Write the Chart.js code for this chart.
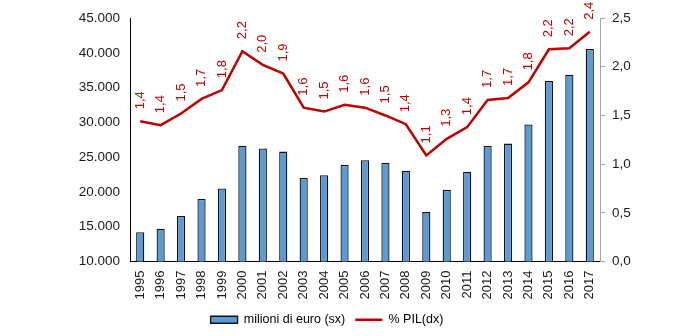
<!DOCTYPE html>
<html>
<head>
<meta charset="utf-8">
<script src="https://cdn.jsdelivr.net/npm/chart.js@4.4.1/dist/chart.umd.min.js"></script>
<style>
  html, body { margin: 0; padding: 0; background: #fff; }
  #wrap { width: 700px; height: 336px; }
</style>
</head>
<body>
<div id="wrap"><canvas id="chart" width="700" height="336"></canvas></div>
<script>
// data
const years = ['1995', '1996', '1997', '1998', '1999', '2000', '2001', '2002', '2003', '2004', '2005', '2006',
    '2007', '2008', '2009', '2010', '2011', '2012', '2013', '2014', '2015', '2016', '2017'];
const milioniEuro = [14200, 14700, 16550, 19000, 20500, 26650, 26250, 25800, 22000, 22400, 23900, 24550,
    24200, 23050, 17100, 20300, 22900, 26600, 26950, 29700, 35950, 36850, 40550];
const pilPerc = [1.44, 1.40, 1.52, 1.67, 1.76, 2.16, 2.02, 1.93, 1.58, 1.54, 1.61, 1.58,
    1.50, 1.41, 1.09, 1.26, 1.38, 1.66, 1.68, 1.84, 2.18, 2.19, 2.36];
const leftTicks = [10000, 15000, 20000, 25000, 30000, 35000, 40000, 45000];
const rightTicks = [0, 0.5, 1, 1.5, 2, 2.5];

const FONT = "'Liberation Sans Narrow', 'Liberation Sans', Arial, sans-serif";
const barColor = '#5B9BD5';
const lineColor = '#C00000';

Chart.defaults.font.family = FONT;
Chart.defaults.color = '#1a1a1a';

// rotated value labels above the line points
const pointLabels = {
    id: 'pointLabels',
    afterDatasetsDraw(chart) {
        const meta = chart.getDatasetMeta(0);
        const ctx = chart.ctx;
        ctx.save();
        ctx.fillStyle = lineColor;
        ctx.font = '13px ' + FONT;
        ctx.textAlign = 'left';
        ctx.textBaseline = 'middle';
        meta.data.forEach((pt, i) => {
            ctx.save();
            ctx.translate(pt.x, pt.y - 12);
            ctx.rotate(-Math.PI / 2);
            ctx.fillText(pilPerc[i].toFixed(1).replace('.', ','), 0, 0);
            ctx.restore();
        });
        ctx.restore();
    }
};

new Chart(document.getElementById('chart').getContext('2d'), {
    type: 'bar',
    data: {
        labels: years,
        datasets: [{
            type: 'line',
            label: '% PIL(dx)',
            data: pilPerc,
            yAxisID: 'y1',
            borderColor: lineColor,
            backgroundColor: lineColor,
            borderWidth: 2.5,
            pointRadius: 0,
            tension: 0,
            order: 0
        }, {
            label: 'milioni di euro (sx)',
            data: milioniEuro,
            yAxisID: 'y',
            backgroundColor: barColor,
            borderColor: '#111',
            borderWidth: 1.3,
            categoryPercentage: 1,
            barPercentage: 0.4,
            order: 1
        }]
    },
    options: {
        responsive: false,
        animation: false,
        devicePixelRatio: 1,
        layout: {
            padding: { top: 6, right: 46, left: 0, bottom: 0 }
        },
        scales: {
            x: {
                offset: true,
                grid: { display: false, drawTicks: false },
                border: { display: true, color: '#000', width: 1 },
                ticks: {
                    minRotation: 90,
                    maxRotation: 90,
                    padding: 9,
                    font: { size: 13 },
                    color: '#1a1a1a'
                },
                afterFit: scale => { scale.height = 42; }
            },
            y: {
                position: 'left',
                min: 10000,
                max: 45000,
                grid: { display: false, drawTicks: false },
                border: { display: true, color: '#000', width: 1 },
                afterBuildTicks: scale => { scale.ticks = leftTicks.map(v => ({ value: v })); },
                ticks: {
                    padding: 10,
                    font: { size: 13.5 },
                    color: '#1a1a1a',
                    callback: v => v.toLocaleString('it-IT', { useGrouping: true }).replace(/\s/g, '.')
                },
                afterFit: scale => { scale.width = 130; }
            },
            y1: {
                position: 'right',
                min: 0,
                max: 2.5,
                grid: { display: true, drawOnChartArea: false, drawTicks: true, tickLength: 5, color: '#a6a6a6' },
                border: { display: true, color: '#a6a6a6', width: 1 },
                afterBuildTicks: scale => { scale.ticks = rightTicks.map(v => ({ value: v })); },
                ticks: {
                    padding: 7,
                    font: { size: 13.5 },
                    color: '#1a1a1a',
                    callback: v => v.toFixed(1).replace('.', ',')
                },
                afterFit: scale => { scale.width = 54; }
            }
        },
        plugins: {
            legend: {
                position: 'bottom',
                labels: {
                    usePointStyle: true,
                    pointStyleWidth: 27,
                    boxHeight: 7,
                    padding: 10,
                    font: { size: 12.5 },
                    color: '#1a1a1a',
                    generateLabels: () => [
                        { text: 'milioni di euro (sx)', fillStyle: barColor, strokeStyle: '#111', lineWidth: 1.3, pointStyle: 'rect', datasetIndex: 1 },
                        { text: '% PIL(dx)', fillStyle: lineColor, strokeStyle: lineColor, lineWidth: 2.5, pointStyle: 'line', datasetIndex: 0 }
                    ]
                }
            },
            tooltip: { enabled: false }
        }
    },
    plugins: [pointLabels]
});
</script>
</body>
</html>
